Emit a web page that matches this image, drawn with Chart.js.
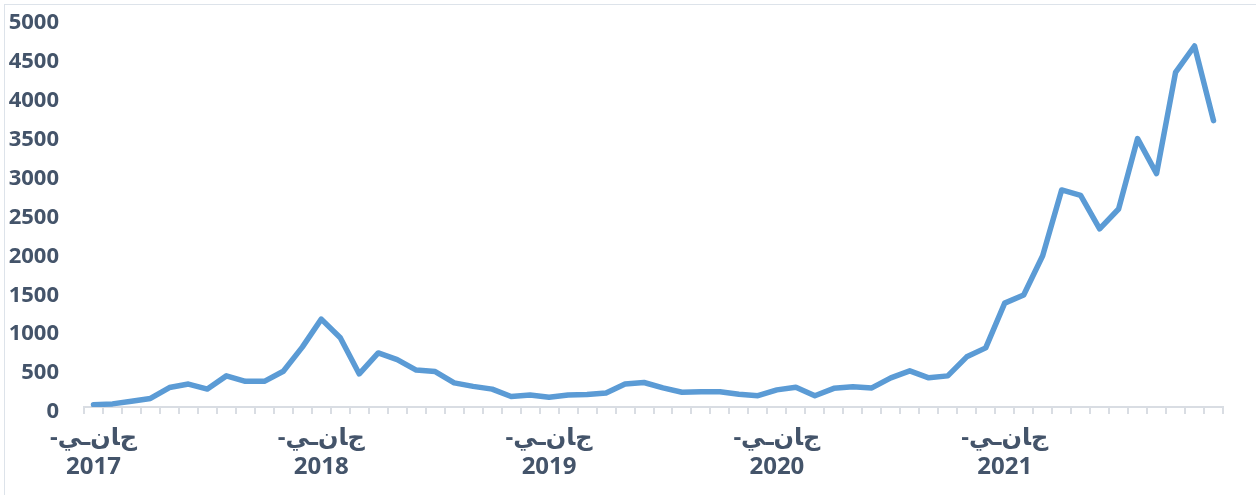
<!DOCTYPE html>
<html>
<head>
<meta charset="utf-8">
<script src="https://cdn.jsdelivr.net/npm/chart.js@4"></script>
<style>
  html, body { margin: 0; padding: 0; background: #fff; overflow: hidden; }
  #frame { position: absolute; left: 4px; top: 4px; width: 1400px; height: 600px; border-left: 1px solid #dde3ea; border-top: 1px solid #dde3ea; }
  canvas { position: absolute; left: 0; top: 0; }
</style>
</head>
<body>
<div id="frame"></div>
<canvas id="chart" width="1256" height="495"></canvas>
<script>
// --- DATA ---
const years = ['2017', '2018', '2019', '2020', '2021'];
const months = years.flatMap(y => ['01','02','03','04','05','06','07','08','09','10','11','12'].map(m => y + '-' + m));
// jan + isolated noon + tatweel + final yeh (as drawn in the original)
const monthLabel = '-\uFE9D\uFE8E\uFEE5\u0640\uFEF2';
const values = [
  30, 40, 75, 110, 250, 295, 230, 400, 330, 330, 460, 770,
  1130, 890, 425, 695, 610, 475, 455, 310, 265, 230, 135, 155,
  125, 155, 160, 180, 295, 315, 245, 190, 195, 195, 165, 145,
  220, 255, 145, 240, 260, 245, 375, 465, 375, 400, 645, 760,
  1335, 1440, 1945, 2790, 2720, 2290, 2545, 3450, 3000, 4300, 4640, 3680
];
const yTicks = [0, 500, 1000, 1500, 2000, 2500, 3000, 3500, 4000, 4500, 5000];

const textColor = '#44546a';
const axisColor = '#d9dde3';
const fontFamily = '"Open Sans", "DejaVu Sans", sans-serif';

new Chart(document.getElementById('chart'), {
    type: 'line',
    data: {
        labels: months,
        datasets: [{
            data: values,
            borderColor: '#5b9bd5',
            borderWidth: 5.5,
            pointRadius: 0,
            tension: 0,
            borderJoinStyle: 'round',
            borderCapStyle: 'round'
        }]
    },
    options: {
        responsive: false,
        animation: false,
        devicePixelRatio: 1,
        layout: { padding: { left: 0, right: 33, top: 18, bottom: 0 } },
        plugins: { legend: { display: false }, tooltip: { enabled: false } },
        scales: {
            x: {
                offset: true,
                grid: { offset: true, drawOnChartArea: false, drawTicks: true, tickLength: 7, color: axisColor, lineWidth: 2 },
                border: { display: true, color: axisColor, width: 2 },
                ticks: {
                    autoSkip: false,
                    maxRotation: 0,
                    padding: 10,
                    color: textColor,
                    font: { family: fontFamily, size: 24, weight: 'bold', lineHeight: 1.2 },
                    callback: (v, i) => i % 12 === 0 ? [monthLabel, months[i].slice(0, 4)] : ''
                },
                afterFit: s => { s.height = 88; s.paddingLeft = 0; s.paddingRight = 0; }
            },
            y: {
                min: 0,
                max: 5000,
                afterBuildTicks: s => { s.ticks = yTicks.map(v => ({ value: v })); },
                grid: { display: false, drawTicks: false },
                border: { display: false },
                ticks: {
                    padding: 25,
                    labelOffset: 5,
                    color: textColor,
                    font: { family: fontFamily, size: 22, weight: 'bold' },
                    callback: v => String(v)
                },
                afterFit: s => { s.width = 84; s.paddingTop = 0; s.paddingBottom = 0; }
            }
        }
    }
});
</script>
</body>
</html>
